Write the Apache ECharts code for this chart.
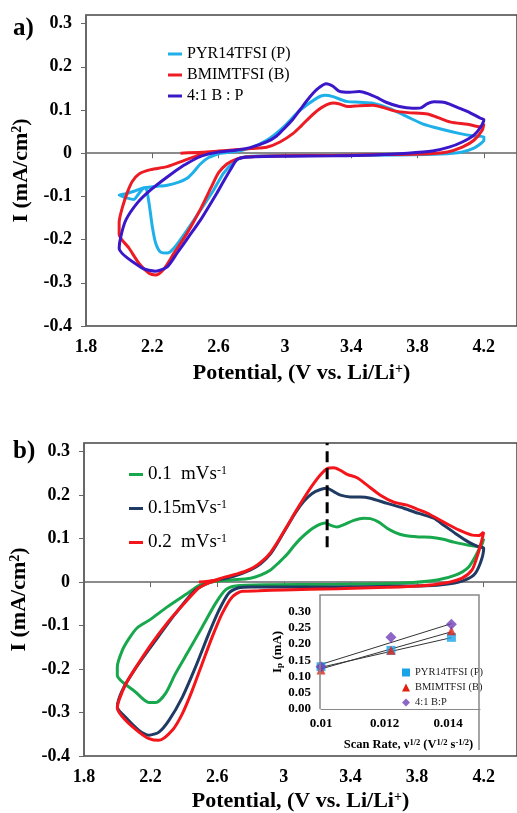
<!DOCTYPE html>
<html>
<head>
<meta charset="utf-8">
<script src="https://cdn.jsdelivr.net/npm/echarts@6/dist/echarts.min.js"></script>
<style>
  html, body { margin: 0; padding: 0; background: #fff; }
  #chart { width: 517px; height: 813px; }
</style>
</head>
<body>
<div id="chart"></div>
<script>
// ---- Panel a: cyclic voltammograms of the three electrolytes, [potential V, current mA/cm2] ----
const cvPyr = [
  [2.61, 0.000], [2.70, 0.004], [2.79, 0.012], [2.89, 0.030], [2.99, 0.060], [3.09, 0.099],
  [3.19, 0.127], [3.24, 0.134], [3.29, 0.131], [3.37, 0.120], [3.45, 0.118], [3.53, 0.116],
  [3.63, 0.104], [3.74, 0.084], [3.83, 0.068], [3.94, 0.056], [4.05, 0.046], [4.14, 0.040],
  [4.20, 0.038], [4.20, 0.030], [4.18, 0.022], [4.14, 0.012], [4.07, 0.003], [3.94, -0.002],
  [3.70, -0.004], [3.30, -0.005], [3.00, -0.006], [2.80, -0.007], [2.74, -0.010], [2.69, -0.021],
  [2.63, -0.046], [2.57, -0.085], [2.49, -0.132], [2.41, -0.178], [2.33, -0.220], [2.29, -0.231],
  [2.25, -0.229], [2.22, -0.208], [2.20, -0.170], [2.18, -0.115], [2.16, -0.080], [2.14, -0.083],
  [2.11, -0.098], [2.09, -0.107], [2.05, -0.104], [2.00, -0.097], [2.04, -0.094], [2.09, -0.088],
  [2.14, -0.081], [2.22, -0.077], [2.29, -0.074], [2.36, -0.067], [2.41, -0.058], [2.45, -0.043],
  [2.49, -0.025], [2.54, -0.010], [2.61, 0.000]
];
const cvBmim = [
  [2.37, 0.000], [2.50, 0.002], [2.60, 0.005], [2.70, 0.008], [2.80, 0.011], [2.89, 0.014],
  [2.97, 0.026], [3.05, 0.046], [3.10, 0.064], [3.15, 0.083], [3.20, 0.100], [3.25, 0.112],
  [3.29, 0.116], [3.33, 0.114], [3.38, 0.108], [3.45, 0.110], [3.53, 0.111], [3.60, 0.105],
  [3.66, 0.098], [3.74, 0.094], [3.86, 0.091], [3.92, 0.083], [4.00, 0.072], [4.10, 0.067],
  [4.18, 0.061], [4.20, 0.068], [4.19, 0.053], [4.14, 0.030], [4.07, 0.014], [3.98, 0.003],
  [3.83, -0.002], [3.60, -0.003], [3.30, -0.005], [3.00, -0.006], [2.85, -0.007], [2.76, -0.009],
  [2.70, -0.015], [2.65, -0.025], [2.60, -0.045], [2.56, -0.075], [2.49, -0.130], [2.41, -0.185],
  [2.33, -0.232], [2.27, -0.268], [2.22, -0.282], [2.18, -0.278], [2.12, -0.255], [2.06, -0.220],
  [2.00, -0.188], [2.00, -0.160], [2.02, -0.125], [2.05, -0.090], [2.08, -0.065], [2.12, -0.048],
  [2.19, -0.038], [2.29, -0.031], [2.39, -0.017], [2.47, -0.006], [2.55, 0.002]
];
const cvBlend = [
  [2.45, -0.015], [2.50, -0.006], [2.59, 0.002], [2.70, 0.007], [2.79, 0.013], [2.89, 0.026],
  [2.95, 0.040], [2.99, 0.055], [3.04, 0.075], [3.09, 0.100], [3.15, 0.130], [3.20, 0.150],
  [3.25, 0.161], [3.29, 0.155], [3.33, 0.143], [3.39, 0.141], [3.45, 0.143], [3.50, 0.138],
  [3.56, 0.128], [3.61, 0.118], [3.69, 0.108], [3.77, 0.104], [3.82, 0.105], [3.86, 0.115],
  [3.90, 0.119], [3.97, 0.117], [4.04, 0.106], [4.12, 0.093], [4.18, 0.081], [4.20, 0.078],
  [4.18, 0.060], [4.14, 0.042], [4.07, 0.026], [3.99, 0.014], [3.89, 0.005], [3.74, 0.000],
  [3.53, -0.004], [3.30, -0.006], [3.00, -0.007], [2.82, -0.008], [2.75, -0.010], [2.71, -0.015],
  [2.67, -0.039], [2.63, -0.065], [2.59, -0.092], [2.49, -0.155], [2.42, -0.193], [2.35, -0.231],
  [2.29, -0.263], [2.22, -0.273], [2.14, -0.266], [2.00, -0.220], [2.01, -0.193], [2.04, -0.155],
  [2.11, -0.115], [2.19, -0.085], [2.29, -0.055], [2.39, -0.028], [2.45, -0.015]
];

// ---- Panel b: voltammograms at three scan rates ----
const cv01 = [
  [2.55, -0.001], [2.62, 0.003], [2.69, 0.005], [2.80, 0.009], [2.86, 0.016], [2.92, 0.028],
  [2.97, 0.045], [3.02, 0.064], [3.06, 0.083], [3.10, 0.100], [3.15, 0.117], [3.20, 0.130],
  [3.25, 0.136], [3.28, 0.131], [3.32, 0.127], [3.36, 0.132], [3.42, 0.142], [3.48, 0.147],
  [3.52, 0.146], [3.57, 0.138], [3.62, 0.124], [3.67, 0.114], [3.72, 0.108], [3.81, 0.104],
  [3.88, 0.103], [3.95, 0.099], [4.02, 0.092], [4.11, 0.085], [4.18, 0.082], [4.20, 0.100],
  [4.17, 0.074], [4.11, 0.035], [4.03, 0.016], [3.92, 0.005], [3.72, -0.002], [3.32, -0.005],
  [2.90, -0.006], [2.71, -0.009], [2.65, -0.018], [2.59, -0.049], [2.51, -0.103], [2.43, -0.157],
  [2.35, -0.210], [2.29, -0.256], [2.23, -0.277], [2.19, -0.277], [2.11, -0.253], [2.00, -0.214],
  [2.00, -0.195], [2.03, -0.157], [2.07, -0.130], [2.12, -0.105], [2.19, -0.088], [2.30, -0.057],
  [2.42, -0.026], [2.49, -0.008], [2.55, -0.001]
];
const cv015 = [
  [2.57, 0.003], [2.69, 0.012], [2.80, 0.028], [2.86, 0.042], [2.92, 0.065], [2.97, 0.095],
  [3.02, 0.128], [3.07, 0.160], [3.12, 0.186], [3.17, 0.204], [3.22, 0.213], [3.26, 0.216],
  [3.30, 0.208], [3.34, 0.200], [3.40, 0.196], [3.46, 0.196], [3.52, 0.193],
  [3.62, 0.181], [3.72, 0.170], [3.81, 0.158], [3.90, 0.147], [3.96, 0.131], [4.03, 0.112],
  [4.11, 0.092], [4.17, 0.081], [4.20, 0.078], [4.18, 0.044], [4.14, 0.016], [4.05, 0.000],
  [3.92, -0.007], [3.72, -0.009], [3.32, -0.011], [3.00, -0.011], [2.80, -0.011], [2.73, -0.013],
  [2.67, -0.025], [2.61, -0.065], [2.55, -0.118], [2.47, -0.195], [2.39, -0.265], [2.31, -0.318],
  [2.25, -0.345], [2.19, -0.352], [2.13, -0.341], [2.05, -0.311], [2.00, -0.287], [2.03, -0.249],
  [2.11, -0.198], [2.23, -0.134], [2.35, -0.072], [2.47, -0.018], [2.57, 0.003]
];
const cv02 = [
  [2.49, 0.000], [2.58, 0.004], [2.65, 0.012], [2.72, 0.019], [2.77, 0.025], [2.82, 0.034],
  [2.87, 0.048], [2.92, 0.068], [2.97, 0.097], [3.02, 0.129], [3.07, 0.162], [3.12, 0.193],
  [3.17, 0.222], [3.22, 0.247], [3.26, 0.261], [3.30, 0.263], [3.34, 0.257],
  [3.38, 0.248], [3.44, 0.240], [3.50, 0.223], [3.58, 0.200], [3.66, 0.184], [3.74, 0.177],
  [3.80, 0.168], [3.86, 0.159], [3.96, 0.138], [4.05, 0.120], [4.13, 0.108], [4.17, 0.107],
  [4.20, 0.115], [4.19, 0.098], [4.16, 0.058], [4.13, 0.028], [4.07, 0.009], [3.97, -0.002],
  [3.81, -0.009], [3.62, -0.012], [3.32, -0.015], [3.00, -0.018], [2.85, -0.020], [2.75, -0.021],
  [2.69, -0.034], [2.63, -0.072], [2.57, -0.126], [2.51, -0.187], [2.45, -0.249], [2.39, -0.303],
  [2.33, -0.341], [2.25, -0.364], [2.19, -0.360], [2.13, -0.345], [2.05, -0.318], [2.00, -0.290],
  [2.01, -0.272], [2.05, -0.235], [2.10, -0.203], [2.20, -0.145], [2.30, -0.094], [2.40, -0.050],
  [2.49, -0.013], [2.55, -0.002], [2.62, 0.007]
];
// vertical guide through the anodic peak
const peakGuide = [[3.26, 0.08], [3.26, 0.32]];

// ---- Inset: peak current vs square root of scan rate ----
const scanRateRoot = [0.01, 0.0122, 0.0141];
const ipPyr = [0.13, 0.18, 0.22];
const ipBmim = [0.12, 0.18, 0.24];
const ipBlend = [0.13, 0.22, 0.26];
const fitX = [0.01, 0.0141];
const fitPyr = [0.128, 0.219];
const fitBmim = [0.123, 0.237];
const fitBlend = [0.137, 0.262];

const SERIF = '"Liberation Serif", "Times New Roman", serif';
const BOLD = { fontFamily: SERIF, fontWeight: 'bold', color: '#000' };

function pairs(xs, ys) { return xs.map((x, i) => [x, ys[i]]); }

function cvXAxis(gridIndex, nameGap) {
  return {
    type: 'value', gridIndex, min: 1.8, max: 4.4, interval: 0.4,
    name: '{t|Potential, (V vs. Li/Li}{s|+}{t|)}',
    nameLocation: 'middle', nameGap,
    nameTextStyle: { rich: {
      t: Object.assign({ fontSize: 22 }, BOLD),
      s: Object.assign({ fontSize: 14, verticalAlign: 'top' }, BOLD)
    } },
    axisLine: { show: true, lineStyle: { color: '#666', width: 1.5 } },
    axisTick: { show: true, length: 5, lineStyle: { color: '#666' } },
    axisLabel: Object.assign({ fontSize: 18, margin: 12, showMaxLabel: false,
      formatter: v => String(+v.toFixed(1)) }, BOLD),
    splitLine: { show: false }
  };
}
function cvYAxis(gridIndex) {
  return {
    type: 'value', gridIndex, min: -0.4, max: 0.32, interval: 0.1,
    name: '{t|I (mA/cm}{s|2}{t|)}',
    nameLocation: 'middle', nameGap: 50,
    nameTextStyle: { rich: {
      t: Object.assign({ fontSize: 22 }, BOLD),
      s: Object.assign({ fontSize: 14, verticalAlign: 'top' }, BOLD)
    } },
    axisLine: { show: true, lineStyle: { color: '#666', width: 1.5 } },
    axisTick: { show: true, length: 5, lineStyle: { color: '#666' } },
    axisLabel: Object.assign({ fontSize: 18, margin: 14, showMaxLabel: false,
      formatter: v => String(+v.toFixed(1)) }, BOLD),
    splitLine: { show: false }
  };
}
function cvLine(name, data, color, axis) {
  return {
    name, type: 'line', data, xAxisIndex: axis, yAxisIndex: axis,
    showSymbol: false, smooth: 0.25, silent: true,
    lineStyle: { color, width: 3 }, itemStyle: { color }
  };
}
function fitLine(name, ys) {
  return {
    name, type: 'line', data: pairs(fitX, ys), xAxisIndex: 2, yAxisIndex: 2,
    showSymbol: false, silent: true, z: 3,
    lineStyle: { color: '#333', width: 1 }, itemStyle: { color: '#333' }
  };
}

const C = {
  pyr: '#1fb0ea', bmim: '#ed1c24', blend: '#3a17c9',
  s01: '#17a74c', s015: '#1f3b63', s02: '#f4151b',
  iPyr: '#1aa3e8', iBmim: '#e2200f', iBlend: '#7040b8'
};

const chart = echarts.init(document.getElementById('chart'), null, { renderer: 'canvas' });
chart.setOption({
  animation: false,
  backgroundColor: '#fff',
  title: [
    { text: 'a)', left: 8, top: 11, textStyle: Object.assign({ fontSize: 25 }, BOLD) },
    { text: 'b)', left: 8, top: 434, textStyle: Object.assign({ fontSize: 25 }, BOLD) }
  ],
  grid: [
    { left: 86, top: 15, width: 431, height: 311, show: true, borderColor: '#444', borderWidth: 1.5 },
    { left: 84, top: 443, width: 436, height: 313, show: true, borderColor: '#444', borderWidth: 1.5 },
    { left: 321, top: 595, width: 159, height: 114, show: false }
  ],
  xAxis: [
    cvXAxis(0, 36),
    cvXAxis(1, 34),
    {
      type: 'value', gridIndex: 2, min: 0.01, max: 0.015, interval: 0.002,
      name: '{t|Scan Rate, ν}{s|1/2}{t| (V}{s|1/2}{t| s}{s|-1/2}{t|)}',
      nameLocation: 'middle', nameGap: 29,
      nameTextStyle: { padding: [0, 0, 0, 16], rich: {
        t: Object.assign({ fontSize: 12.5 }, BOLD),
        s: Object.assign({ fontSize: 8.5, verticalAlign: 'top' }, BOLD)
      } },
      axisLine: { show: true, lineStyle: { color: '#888', width: 1.2 } },
      axisTick: { show: false },
      axisLabel: Object.assign({ fontSize: 13, margin: 8, showMaxLabel: false,
        formatter: v => String(+v.toFixed(3)) }, BOLD),
      splitLine: { show: false }
    }
  ],
  yAxis: [
    cvYAxis(0),
    cvYAxis(1),
    {
      type: 'value', gridIndex: 2, min: 0, max: 0.35, interval: 0.05,
      name: '{t|I}{p|p}{t| (mA)}',
      nameLocation: 'middle', nameGap: 37,
      nameTextStyle: { rich: {
        t: Object.assign({ fontSize: 13 }, BOLD),
        p: Object.assign({ fontSize: 9, verticalAlign: 'bottom' }, BOLD)
      } },
      axisLine: { show: false },
      axisTick: { show: false },
      axisLabel: Object.assign({ fontSize: 13, margin: 10, showMaxLabel: false,
        formatter: v => v.toFixed(2) }, BOLD),
      splitLine: { show: false }
    }
  ],
  legend: [
    {
      data: ['PYR14TFSI (P)', 'BMIMTFSI (B)', '4:1 B : P'],
      orient: 'vertical', left: 163, top: 41, icon: 'rect',
      itemWidth: 14, itemHeight: 3, itemGap: 5, selectedMode: false,
      textStyle: { fontFamily: SERIF, fontSize: 16, color: '#000' }
    },
    {
      data: ['0.1 mVs-1', '0.15 mVs-1', '0.2 mVs-1'],
      orient: 'vertical', left: 124, top: 460, icon: 'rect',
      itemWidth: 14, itemHeight: 3, itemGap: 15, selectedMode: false,
      formatter: name => {
        const [rate] = name.split(' ');
        return '{n|' + rate + '}{u|mVs}{s|-1}';
      },
      textStyle: { rich: {
        n: { fontFamily: SERIF, fontSize: 19, color: '#000', width: 33 },
        u: { fontFamily: SERIF, fontSize: 19, color: '#000' },
        s: { fontFamily: SERIF, fontSize: 12, color: '#000', verticalAlign: 'top' }
      } }
    },
    {
      data: [
        { name: 'PYR14TFSI (P)', icon: 'rect', itemStyle: { color: C.iPyr } },
        { name: 'BMIMTFSI (B)', icon: 'triangle', itemStyle: { color: C.iBmim } },
        { name: '4:1 B:P', icon: 'diamond', itemStyle: { color: C.iBlend } }
      ],
      orient: 'vertical', left: 397, top: 662, itemWidth: 8, itemHeight: 8,
      itemGap: 4, selectedMode: false,
      textStyle: { fontFamily: SERIF, fontSize: 10.5, color: '#222' }
    }
  ],
  graphic: [
    {
      type: 'polyline', silent: true, z: 10,
      shape: { points: [[320, 709], [320, 595], [479, 595], [479, 750]] },
      style: { stroke: '#888', lineWidth: 1.5, fill: null }
    }
  ],
  series: [
    cvLine('PYR14TFSI (P)', cvPyr, C.pyr, 0),
    cvLine('BMIMTFSI (B)', cvBmim, C.bmim, 0),
    cvLine('4:1 B : P', cvBlend, C.blend, 0),
    cvLine('0.1 mVs-1', cv01, C.s01, 1),
    cvLine('0.15 mVs-1', cv015, C.s015, 1),
    cvLine('0.2 mVs-1', cv02, C.s02, 1),
    {
      name: 'peak', type: 'line', data: peakGuide, xAxisIndex: 1, yAxisIndex: 1,
      showSymbol: false, silent: true, z: 5,
      lineStyle: { color: '#000', width: 3, type: [11, 6] }
    },
    fitLine('fit P', fitPyr),
    fitLine('fit B', fitBmim),
    fitLine('fit B:P', fitBlend),
    {
      name: 'PYR14TFSI (P)', type: 'scatter', xAxisIndex: 2, yAxisIndex: 2,
      data: pairs(scanRateRoot, ipPyr), symbol: 'rect', symbolSize: 9, z: 4,
      itemStyle: { color: C.iPyr }
    },
    {
      name: 'BMIMTFSI (B)', type: 'scatter', xAxisIndex: 2, yAxisIndex: 2,
      data: pairs(scanRateRoot, ipBmim), symbol: 'triangle', symbolSize: 9, z: 4,
      itemStyle: { color: C.iBmim }
    },
    {
      name: '4:1 B:P', type: 'scatter', xAxisIndex: 2, yAxisIndex: 2,
      data: pairs(scanRateRoot, ipBlend), symbol: 'diamond', symbolSize: 11, z: 4,
      itemStyle: { color: C.iBlend }
    }
  ]
});
</script>
</body>
</html>
